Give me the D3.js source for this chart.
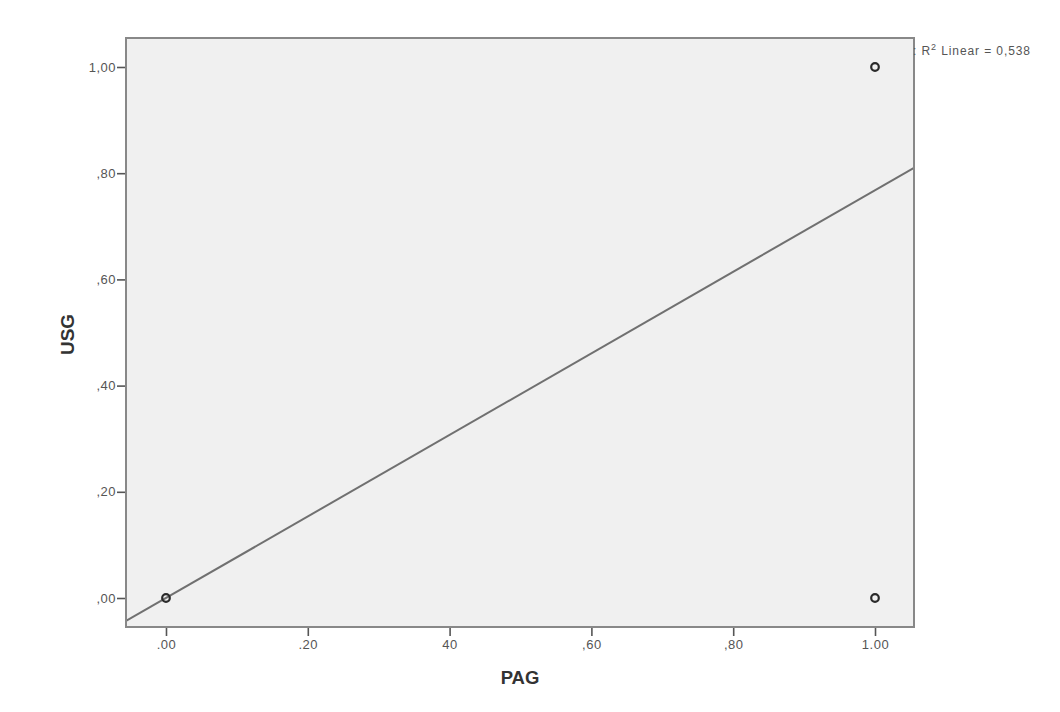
<!DOCTYPE html>
<html>
<head>
<meta charset="utf-8">
<script src="https://cdn.jsdelivr.net/npm/d3@7"></script>
<style>
  html, body { margin: 0; padding: 0; background: #fff; }
  svg { display: block; font-family: Arial, "Liberation Sans", sans-serif; }
</style>
</head>
<body>
<svg id="chart" width="1060" height="712"></svg>
<script>
// observed cases (PAG, USG)
const pagValues = [0, 1, 1];
const usgValues = [0, 1, 0];
// fitted line
const fitIntercept = 0.0;
const fitSlope = 0.768;
const r2Label = "0,538";

const xTickValues = [0, 0.2, 0.4, 0.6, 0.8, 1.0];
const xTickLabels = [".00", ".20", "40", ",60", ",80", "1.00"];
const yTickValues = [0, 0.2, 0.4, 0.6, 0.8, 1.0];
const yTickLabels = [",00", ",20", ",40", ",60", ",80", "1,00"];

const frame = { left: 126, right: 914, top: 38, bottom: 627 };

const svg = d3.select("#chart");

const x = d3.scaleLinear().domain([-0.0564, 1.055]).range([frame.left, frame.right]);
const y = d3.scaleLinear().domain([-0.0546, 1.0546]).range([frame.bottom, frame.top]);

// plot background
svg.append("rect")
  .attr("x", frame.left).attr("y", frame.top)
  .attr("width", frame.right - frame.left)
  .attr("height", frame.bottom - frame.top)
  .attr("fill", "#f0f0f0");

// fit line, clipped to frame
svg.append("clipPath").attr("id", "clip")
  .append("rect")
  .attr("x", frame.left).attr("y", frame.top)
  .attr("width", frame.right - frame.left)
  .attr("height", frame.bottom - frame.top);

const xd = x.domain();
svg.append("line")
  .attr("clip-path", "url(#clip)")
  .attr("x1", x(xd[0])).attr("y1", y(fitIntercept + fitSlope * xd[0]))
  .attr("x2", x(xd[1])).attr("y2", y(fitIntercept + fitSlope * xd[1]))
  .attr("stroke", "#707070")
  .attr("stroke-width", 2);

// points
svg.selectAll("circle.pt").data(pagValues.map((p, i) => [p, usgValues[i]]))
  .enter().append("circle")
  .attr("class", "pt")
  .attr("cx", d => x(d[0]))
  .attr("cy", d => y(d[1]))
  .attr("r", 3.8)
  .attr("fill", "none")
  .attr("stroke", "#2a2a2a")
  .attr("stroke-width", 2.2);

// axes
const xAxis = svg.append("g")
  .attr("transform", `translate(0,${frame.bottom})`)
  .call(d3.axisBottom(x).tickValues(xTickValues).tickSize(9).tickPadding(4)
    .tickFormat((d, i) => xTickLabels[i]));
const yAxis = svg.append("g")
  .attr("transform", `translate(${frame.left},0)`)
  .call(d3.axisLeft(y).tickValues(yTickValues).tickSize(9).tickPadding(1)
    .tickFormat((d, i) => yTickLabels[i]));

[xAxis, yAxis].forEach(g => {
  g.select(".domain").remove();
  g.selectAll("line").attr("stroke", "#555").attr("stroke-width", 1.6);
  g.selectAll("text").attr("fill", "#555")
    .style("font-size", "13px").style("letter-spacing", "0.5px");
});

// frame
svg.append("rect")
  .attr("x", frame.left).attr("y", frame.top)
  .attr("width", frame.right - frame.left)
  .attr("height", frame.bottom - frame.top)
  .attr("fill", "none")
  .attr("stroke", "#888")
  .attr("stroke-width", 2);

// axis titles
svg.append("text")
  .attr("x", (frame.left + frame.right) / 2)
  .attr("y", 684)
  .attr("text-anchor", "middle")
  .attr("fill", "#333")
  .style("font-size", "18.5px")
  .style("font-weight", "bold")
  .text("PAG");

svg.append("text")
  .attr("transform", `translate(74,${(frame.top + frame.bottom) / 2 + 2}) rotate(-90)`)
  .attr("text-anchor", "middle")
  .attr("fill", "#333")
  .style("font-size", "19px")
  .style("font-weight", "bold")
  .text("USG");

// R2 legend
const leg = svg.append("text")
  .attr("x", 913)
  .attr("y", 55)
  .attr("fill", "#555")
  .style("font-size", "12px")
  .style("letter-spacing", "0.9px");
leg.append("tspan").text(": R");
leg.append("tspan").attr("dy", -5).style("font-size", "9px").text("2");
leg.append("tspan").attr("dy", 5).text(" Linear = " + r2Label);
</script>
</body>
</html>
